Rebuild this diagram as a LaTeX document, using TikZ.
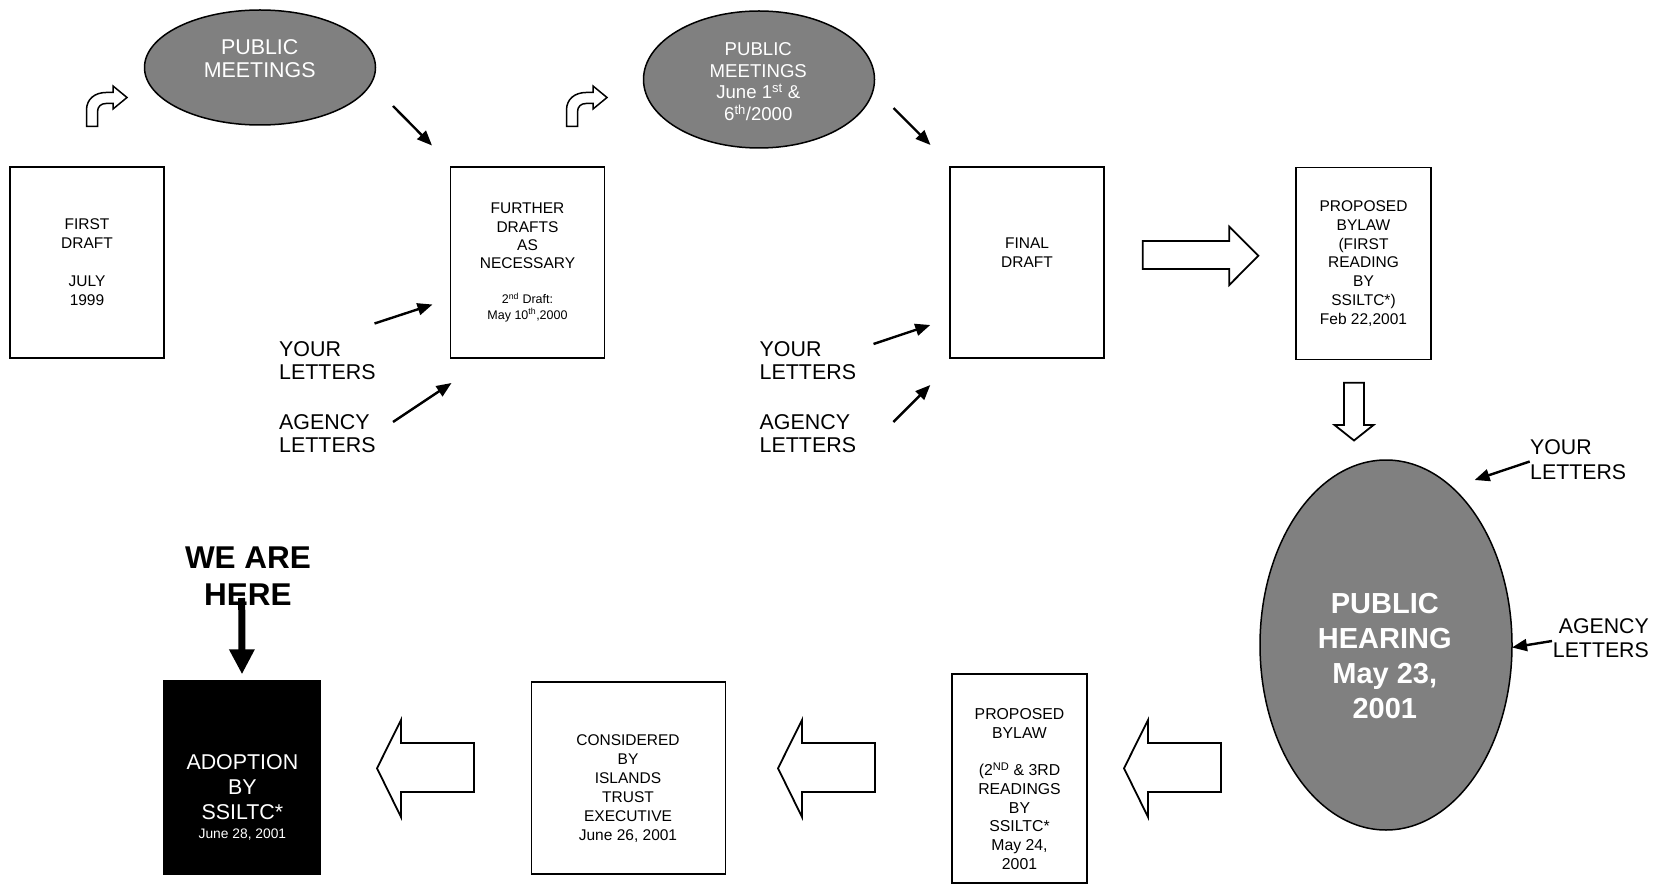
\documentclass[tikz,border=0pt]{standalone}
\usepackage{fontspec}
\setmainfont{Liberation Sans}
\usetikzlibrary{arrows.meta,shapes.geometric}
\definecolor{meetgray}{RGB}{128,128,128}

\begin{document}
\begin{tikzpicture}[
    x=1pt, y=-1pt,
    doc/.style={rectangle, draw, line width=1.8pt, minimum width=154pt, minimum height=191pt, inner sep=0pt, align=center, font=\fontsize{15.5}{18.9}\selectfont},
    doctext/.style={align=center, inner sep=0pt, font=\fontsize{15.5}{18.9}\selectfont},
    meeting/.style={ellipse, draw, line width=1.5pt, fill=meetgray, text=white, inner sep=0pt, align=center},
    lbl/.style={align=left, inner sep=0pt, font=\fontsize{21.4}{23.3}\selectfont},
    feed/.style={line width=2.4pt, -{Triangle[length=15pt,width=12pt]}},
    hollow/.style={draw, line width=1.8pt, fill=white, line join=miter}
]
\path[use as bounding box, fill=white] (0,0) rectangle (1654,885);

% top row of drafts
\node[doc] (first) at (87,262.5) {FIRST\\DRAFT\\[19pt]JULY\\1999};
\node[doc, font=\fontsize{15.5}{18.3}\selectfont] (further) at (527.5,262.5) {FURTHER\\DRAFTS\\AS\\NECESSARY\\[16.5pt]{\fontsize{12.5}{16}\selectfont 2\textsuperscript{nd} Draft:}\\[-2.5pt]{\fontsize{12.5}{16}\selectfont May 10\textsuperscript{th},2000}};
\node[doc] (final) at (1027,262.5) {};
\node[doctext] (final-txt) at (1027,252.6) {FINAL\\DRAFT};
\node[doc, minimum width=135pt, minimum height=192pt] (bylaw1) at (1363.5,263.5) {PROPOSED\\BYLAW\\(FIRST\\READING\\BY\\SSILTC*)\\Feb 22,2001};

% public meetings
\node[meeting, minimum width=231pt, minimum height=115pt] (meet1) at (260,67.5) {};
\node[doctext, text=white, font=\fontsize{21.4}{23.3}\selectfont] (meet1-txt) at (259.7,58.3) {PUBLIC\\MEETINGS};
\node[meeting, minimum width=231pt, minimum height=137pt] (meet2) at (759,79.5) {};
\node[doctext, text=white, font=\fontsize{18.6}{21.7}\selectfont] (meet2-txt) at (758.3,81.6) {PUBLIC\\MEETINGS\\June 1\textsuperscript{st} \&\\6\textsuperscript{th}/2000};

% public hearing
\node[meeting, minimum width=252pt, minimum height=370pt] (hearing) at (1386,645) {};
\node[doctext, text=white, font=\fontsize{29}{34.9}\selectfont\bfseries] (hearing-txt) at (1384.8,655.7) {PUBLIC\\HEARING\\May 23,\\2001};

% bottom row
\node[doc, minimum width=135pt, minimum height=209pt] (bylaw2) at (1019.5,778.5) {};
\node[doctext, font=\fontsize{15.8}{18.7}\selectfont] (bylaw2-txt) at (1019.5,789) {PROPOSED\\BYLAW\\[18.7pt](2\textsuperscript{ND} \& 3RD\\READINGS\\BY\\SSILTC*\\May 24,\\2001};
\node[doc, minimum width=194pt, minimum height=192pt] (council) at (628.5,778) {};
\node[doctext] (council-txt) at (628,788.7) {CONSIDERED\\BY\\ISLANDS\\TRUST\\EXECUTIVE\\June 26, 2001};
\node[doc, fill=black, minimum width=157pt, minimum height=193pt] (adoption) at (242,777.7) {};
\node[doctext, text=white, font=\fontsize{21.4}{25}\selectfont] (adoption-txt) at (242.4,797.5) {ADOPTION\\BY\\SSILTC*\\[-6.4pt]{\fontsize{13.8}{16}\selectfont June 28, 2001}};

% letters
\node[lbl, anchor=west] (your1) at (279,360.3) {YOUR\\LETTERS};
\node[lbl, anchor=west] (agency1) at (279,433.8) {AGENCY\\LETTERS};
\node[lbl, anchor=west] (your2) at (759.5,360.3) {YOUR\\LETTERS};
\node[lbl, anchor=west] (agency2) at (759.5,433.8) {AGENCY\\LETTERS};
\node[lbl, anchor=west, font=\fontsize{21.3}{25}\selectfont] (your3) at (1530,459.2) {YOUR\\LETTERS};
\node[lbl, anchor=east, align=right, font=\fontsize{21.3}{24}\selectfont] (agency3) at (1649,638) {AGENCY\\LETTERS};

\node[doctext, font=\fontsize{31.5}{37}\selectfont\bfseries] (here) at (248,576.5) {WE ARE\\HERE};
\coordinate (here-top) at (241.7,598);

% arrow ends
\coordinate (meet1-out) at (393,106);
\coordinate (further-in1) at (432,145.5);
\coordinate (your1-out) at (374.5,323.5);
\coordinate (further-in2) at (432.5,304.5);
\coordinate (agency1-out) at (393,422);
\coordinate (further-in3) at (451.5,383);
\coordinate (meet2-out) at (893.5,108);
\coordinate (final-in1) at (930.5,145);
\coordinate (your2-out) at (873.5,344);
\coordinate (final-in2) at (930.3,325);
\coordinate (agency2-out) at (893.4,422);
\coordinate (final-in3) at (930.3,385);
\coordinate (your3-out) at (1529.7,461.5);
\coordinate (hearing-in1) at (1474.6,480);
\coordinate (agency3-out) at (1552,641);
\coordinate (hearing-in2) at (1512,647.5);

% connections
\draw[feed] (meet1-out) -- (further-in1);
\draw[feed] (your1-out) -- (further-in2);
\draw[feed] (agency1-out) -- (further-in3);
\draw[feed] (meet2-out) -- (final-in1);
\draw[feed] (your2-out) -- (final-in2);
\draw[feed] (agency2-out) -- (final-in3);
\draw[feed] (your3-out) -- (hearing-in1);
\draw[feed] (agency3-out) -- (hearing-in2);
\draw[line width=7pt, -{Triangle[length=25pt,width=24pt]}] (here-top) -- ([yshift=6pt]adoption.north);

% curved arrows
\draw[hollow, line width=1.5pt] (86.5,126.5) -- (86.5,110) .. controls (86.5,99) and (95,92.5) .. (106,92.5) -- (113,92.5) -- (113,86) -- (127,97.5) -- (113,109) -- (113,103.5) -- (106,103.5) .. controls (101,103.5) and (97.5,106.5) .. (97.5,112) -- (97.5,126.5) -- cycle;
\draw[hollow, line width=1.5pt, shift={(480,0)}] (86.5,126.5) -- (86.5,110) .. controls (86.5,99) and (95,92.5) .. (106,92.5) -- (113,92.5) -- (113,86) -- (127,97.5) -- (113,109) -- (113,103.5) -- (106,103.5) .. controls (101,103.5) and (97.5,106.5) .. (97.5,112) -- (97.5,126.5) -- cycle;

% block arrows
\draw[hollow] (1142.7,241) -- (1229.3,241) -- (1229.3,226.7) -- (1258.3,255.7) -- (1229.3,285) -- (1229.3,269) -- (1142.7,269) -- cycle;
\draw[hollow] (1344,382.7) -- (1364,382.7) -- (1364,425) -- (1373.5,425) -- (1354,440.5) -- (1334.5,425) -- (1344,425) -- cycle;
\draw[hollow] (1124,768.3) -- (1148,720) -- (1148,743) -- (1221,743) -- (1221,792) -- (1148,792) -- (1148,817) -- cycle;
\draw[hollow] (778,768.3) -- (802,720) -- (802,743) -- (875,743) -- (875,792) -- (802,792) -- (802,817) -- cycle;
\draw[hollow] (377,768.3) -- (401,720) -- (401,743) -- (474,743) -- (474,792) -- (401,792) -- (401,817) -- cycle;

\end{tikzpicture}
\end{document}
